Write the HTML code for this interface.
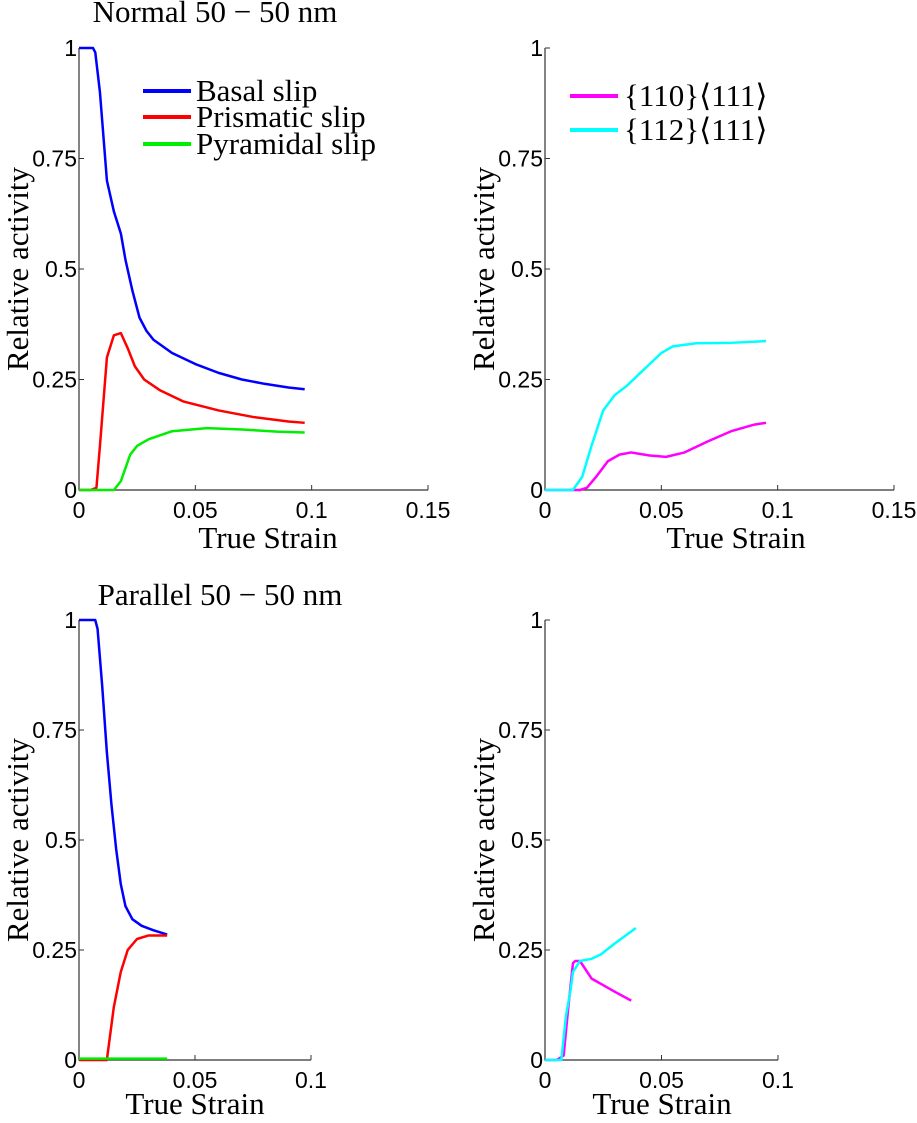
<!DOCTYPE html>
<html><head><meta charset="utf-8"><style>
body{margin:0;background:#fff}
svg text{fill:#000}
.tk{font-family:"Liberation Sans",Arial,sans-serif;font-size:23px}
.lb{font-family:"Liberation Serif",serif;font-size:31px}
</style></head><body>
<svg id="fig" width="917" height="1118" viewBox="0 0 917 1118" xmlns="http://www.w3.org/2000/svg"></svg>
<script>
// ---- data ----
const p1Basal=[[0,1],[0.006,1],[0.007,0.99],[0.009,0.9],[0.012,0.7],[0.015,0.63],[0.018,0.58],[0.02,0.52],[0.023,0.45],[0.026,0.39],[0.029,0.36],[0.032,0.34],[0.04,0.31],[0.05,0.285],[0.06,0.265],[0.07,0.25],[0.08,0.24],[0.09,0.232],[0.097,0.228]];
const p1Prism=[[0,0],[0.005,0],[0.0075,0.005],[0.009,0.1],[0.012,0.3],[0.015,0.35],[0.018,0.355],[0.021,0.32],[0.024,0.28],[0.028,0.25],[0.035,0.225],[0.045,0.2],[0.06,0.18],[0.075,0.165],[0.09,0.155],[0.097,0.152]];
const p1Pyr=[[0,0],[0.015,0],[0.018,0.02],[0.022,0.08],[0.025,0.1],[0.03,0.115],[0.04,0.133],[0.055,0.14],[0.07,0.137],[0.085,0.132],[0.097,0.13]];
const p2S110=[[0,0],[0.015,0],[0.018,0.005],[0.022,0.03],[0.027,0.065],[0.032,0.08],[0.037,0.085],[0.045,0.078],[0.052,0.075],[0.06,0.085],[0.07,0.11],[0.08,0.133],[0.09,0.148],[0.095,0.152]];
const p2S112=[[0,0],[0.012,0],[0.016,0.03],[0.02,0.1],[0.025,0.18],[0.03,0.215],[0.035,0.235],[0.04,0.26],[0.045,0.285],[0.05,0.31],[0.055,0.325],[0.065,0.332],[0.08,0.333],[0.095,0.337]];
const p3Basal=[[0,1],[0.007,1],[0.008,0.98],[0.01,0.85],[0.012,0.7],[0.014,0.58],[0.016,0.48],[0.018,0.4],[0.02,0.35],[0.023,0.32],[0.027,0.305],[0.032,0.295],[0.038,0.285]];
const p3Prism=[[0,0],[0.012,0],[0.013,0.04],[0.015,0.12],[0.018,0.2],[0.021,0.25],[0.025,0.275],[0.03,0.283],[0.038,0.283]];
const p3Pyr=[[0,0.003],[0.02,0.003],[0.038,0.003]];
const p4S110=[[0,0],[0.005,0],[0.008,0.01],[0.01,0.12],[0.012,0.22],[0.013,0.225],[0.015,0.225],[0.02,0.185],[0.025,0.17],[0.03,0.155],[0.037,0.135]];
const p4S112=[[0,0],[0.007,0],[0.009,0.1],[0.011,0.16],[0.012,0.2],[0.015,0.225],[0.02,0.23],[0.024,0.24],[0.03,0.265],[0.039,0.3]];
const yTicks=[0,0.25,0.5,0.75,1];
const yTickLabels=["0","0.25","0.5","0.75","1"];
const xTicksWide=[0,0.05,0.1,0.15];
const xTickLabelsWide=["0","0.05","0.1","0.15"];
const xTicksNarrow=[0,0.05,0.1];
const xTickLabelsNarrow=["0","0.05","0.1"];

const NS="http://www.w3.org/2000/svg";
const svg=document.getElementById('fig');
function mk(tag,attrs,parent){const e=document.createElementNS(NS,tag);for(const k in attrs)e.setAttribute(k,attrs[k]);(parent||svg).appendChild(e);return e;}

function panel(name,x0,x1,xmax,yTop,yBot,xt,xtl,series,ylabel,xlabel){
  const g=mk('g',{});
  
  
  const sx=v=>x0+(v/xmax)*(x1-x0);
  const sy=v=>yBot-v*(yBot-yTop);
  const ax=mk('path',{d:`M${x0},${yTop}V${yBot}H${x1}`,fill:'none',stroke:'#333','stroke-width':1.2},g);
  
  
  yTicks.forEach((t,i)=>{
    mk('line',{x1:x0,x2:x0+5,y1:sy(t),y2:sy(t),stroke:'#333'},g);
    const tx=mk('text',{x:x0-2,y:sy(t)+8,'text-anchor':'end',class:'tk'},g);
    tx.textContent=yTickLabels[i];
    
    
  });
  xt.forEach((t,i)=>{
    mk('line',{x1:sx(t),x2:sx(t),y1:yBot,y2:yBot-5,stroke:'#333'},g);
    const tx=mk('text',{x:sx(t),y:yBot+28,'text-anchor':'middle',class:'tk'},g);
    tx.textContent=xtl[i];
    
    
  });
  series.forEach(s=>{
    const p=mk('polyline',{points:s.d.map(d=>sx(d[0])+','+sy(d[1])).join(' '),fill:'none',stroke:s.c,'stroke-width':2.5,'stroke-linejoin':'round'},g);
    
    
  });
  const yl=mk('text',{transform:`translate(${ylabel[0]},${(yTop+yBot)/2}) rotate(-90)`,'text-anchor':'middle',class:'lb'},g);
  yl.textContent='Relative activity';
  
  
  const xl=mk('text',{x:xlabel[0],y:xlabel[1],'text-anchor':'middle',class:'lb'},g);
  xl.textContent='True Strain';
  
  
  return g;
}
panel('panel-normal-hcp',79,428,0.15,48,490,xTicksWide,xTickLabelsWide,
 [{d:p1Basal,c:'#0000ff',n:'basal-line'},{d:p1Prism,c:'#ff0000',n:'prismatic-line'},{d:p1Pyr,c:'#00ee00',n:'pyramidal-line'}],[28],[268,548]);
panel('panel-normal-bcc',545,894,0.15,48,490,xTicksWide,xTickLabelsWide,
 [{d:p2S110,c:'#ff00ff',n:'slip-110-line'},{d:p2S112,c:'#00ffff',n:'slip-112-line'}],[494],[736,548]);
panel('panel-parallel-hcp',79,311,0.1,620,1060,xTicksNarrow,xTickLabelsNarrow,
 [{d:p3Basal,c:'#0000ff',n:'basal-line'},{d:p3Prism,c:'#ff0000',n:'prismatic-line'},{d:p3Pyr,c:'#00ee00',n:'pyramidal-line'}],[28],[195,1114]);
panel('panel-parallel-bcc',545,778,0.1,620,1060,xTicksNarrow,xTickLabelsNarrow,
 [{d:p4S110,c:'#ff00ff',n:'slip-110-line'},{d:p4S112,c:'#00ffff',n:'slip-112-line'}],[494],[662,1114]);

function title(t,x,y,n){const e=mk('text',{x:x,y:y,'text-anchor':'middle',class:'lb'});e.textContent=t;
 
 }
title('Normal 50 \u2212 50 nm',215,22,'title-normal');
title('Parallel 50 \u2212 50 nm',220,605,'title-parallel');

function legend(items,lx,tx,ys,n){
  const g=mk('g',{});
  
  
  items.forEach((it,i)=>{
    mk('line',{x1:lx,x2:lx+48,y1:ys[i],y2:ys[i],stroke:it[1],'stroke-width':4},g);
    const t=mk('text',{x:tx,y:ys[i]+10,class:'lb'},g);t.textContent=it[0];
    
    
  });
}
legend([['Basal slip','#0000ff'],['Prismatic slip','#ff0000'],['Pyramidal slip','#00ee00']],143,196,[91,117,144],'legend-hcp');
legend([['{110}\u27E8111\u27E9','#ff00ff'],['{112}\u27E8111\u27E9','#00ffff']],570,624,[96,130],'legend-bcc');
</script>
</body></html>
